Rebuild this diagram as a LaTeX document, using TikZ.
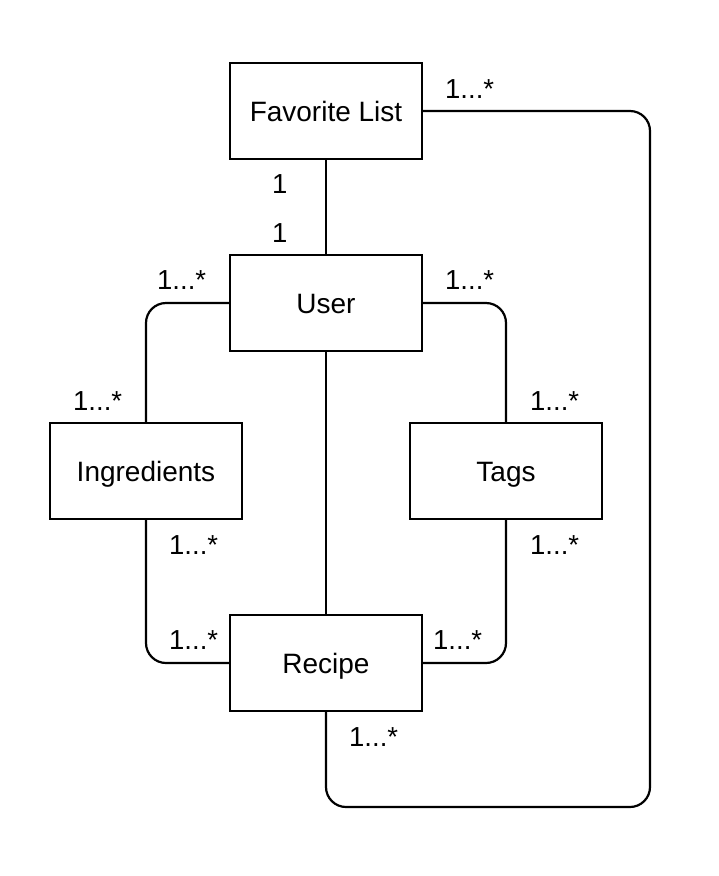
\documentclass[tikz,border=0pt]{standalone}
\usepackage{fontspec}
\setmainfont{Liberation Sans}
\begin{document}
\begin{tikzpicture}[x=1pt,y=-1pt,
  entity/.style={draw=black,line width=2.2pt,fill=white,minimum width=192pt,minimum height=96pt,
    inner sep=0pt,text height=20.5pt,text depth=0pt,font=\fontsize{28}{34}\selectfont},
  link/.style={draw=black,line width=2.2pt,rounded corners=20pt},
  mult/.style={anchor=base west,inner sep=0pt,font=\fontsize{27.5}{33}\selectfont}]
\useasboundingbox (0,0) rectangle (718,876);
\fill[white] (0,0) rectangle (718,876);
\node[entity] (fav) at (326,111) {Favorite List};
\node[entity] (user) at (326,303) {User};
\node[entity] (ing) at (146,471) {Ingredients};
\node[entity] (tags) at (506,471) {Tags};
\node[entity] (rec) at (326,663) {Recipe};
\coordinate (loop) at (650,807);
\draw[link] (fav.south) -- (user.north);
\draw[link] (user.west) -| (ing.north);
\draw[link] (user.east) -| (tags.north);
\draw[link] (ing.south) |- (rec.west);
\draw[link] (tags.south) |- (rec.east);
\draw[link] (user.south) -- (rec.north);
\draw[link] (rec.south) |- (loop) |- (fav.east);
\node[mult] (m1) at (445,98) {1...*};
\node[mult] (m2) at (272,193) {1};
\node[mult] (m3) at (272,242) {1};
\node[mult] (m4) at (157,289) {1...*};
\node[mult] (m5) at (445,289) {1...*};
\node[mult] (m6) at (73,410) {1...*};
\node[mult] (m7) at (530,410) {1...*};
\node[mult] (m8) at (169,554) {1...*};
\node[mult] (m9) at (530,554) {1...*};
\node[mult] (m10) at (169,649) {1...*};
\node[mult] (m11) at (433,649) {1...*};
\node[mult] (m12) at (349,746) {1...*};
\end{tikzpicture}
\end{document}
